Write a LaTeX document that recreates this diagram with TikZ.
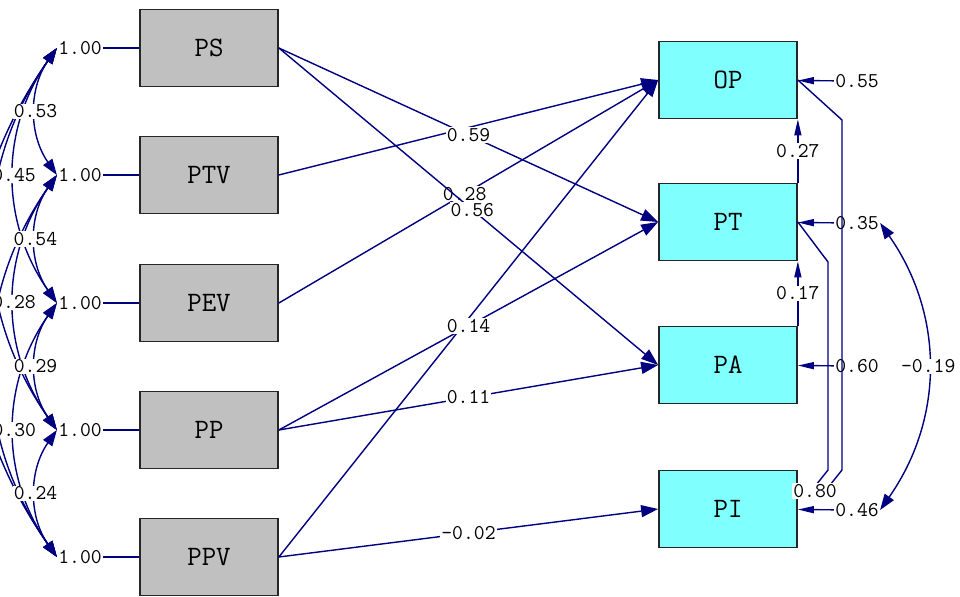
\documentclass[tikz,border=0pt]{standalone}
\usepackage{fontspec}
\usetikzlibrary{arrows.meta}
\definecolor{pathblue}{RGB}{0,0,128}
\definecolor{boxgray}{RGB}{192,192,192}
\definecolor{boxcyan}{RGB}{128,255,255}

\begin{document}
\begin{tikzpicture}[x=0.02cm,y=-0.02cm,
  varbox/.style={draw=black!85,line width=1pt,minimum width=2.76cm,minimum height=1.54cm,
    font=\ttfamily\fontsize{16}{18}\selectfont},
  exo/.style={varbox,fill=boxgray},
  endo/.style={varbox,fill=boxcyan},
  lbl/.style={fill=white,inner sep=0.6pt,font=\ttfamily\fontsize{12}{13}\selectfont},
  link/.style={draw=pathblue,line width=0.8pt},
  effect/.style={link,-{Triangle[length=0.34cm,width=0.24cm]}},
  cov/.style={link,{Triangle[length=0.32cm,width=0.22cm]}-{Triangle[length=0.32cm,width=0.22cm]}},
  narrow/.style={link,-{Triangle[length=0.32cm,width=0.14cm]}}]
  \useasboundingbox (0,0) rectangle (960,597);

  \foreach \n/\y in {PS/48,PTV/175,PEV/303,PP/430,PPV/557} {
    \node[exo] (\n) at (209,\y) {\n};
    \node[lbl] (v\n) at (80,\y) {1.00};
    \draw[link] (v\n) -- (\n);
  }
  \foreach \n/\y/\e in {OP/80/0.55,PT/222/0.35,PA/365/0.60,PI/509/0.46} {
    \node[endo] (\n) at (728,\y) {\n};
    \node[lbl] (e\n) at (857,\y+1) {\e};
    \draw[narrow] (e\n) -- (\n);
  }

  \foreach \a/\b in {PS/PPV,PS/PP,PTV/PPV}
    \draw[cov] (v\a.west) to[bend right=35] (v\b.west);
  \foreach \a/\b/\c in {PS/PEV/0.45,PTV/PP/0.28,PEV/PPV/0.30,
                        PS/PTV/0.53,PTV/PEV/0.54,PEV/PP/0.29,PP/PPV/0.24}
    \draw[cov] (v\a.west) to[bend right=35] node[lbl] (c\a\b) {\c} (v\b.west);

  \draw[effect] (PTV.east) -- (OP.west);
  \draw[effect] (PPV.east) -- (OP.west);
  \draw[effect] (PEV.east) -- node[lbl,pos=0.49] (gPEV) {0.28} (OP.west);
  \draw[effect] (PS.east) -- node[lbl] (bPT) {0.59} (PT.west);
  \draw[effect] (PS.east) -- node[lbl,pos=0.51] (bPA) {0.56} (PA.west);
  \draw[effect] (PP.east) -- node[lbl] (gPT) {0.14} (PT.west);
  \draw[effect] (PP.east) -- node[lbl] (gPA) {0.11} (PA.west);
  \draw[effect] (PPV.east) -- node[lbl] (gPI) {-0.02} (PI.west);

  \draw[narrow] (PT.north east) -- node[lbl] (bOP) {0.27} (OP.south east);
  \draw[narrow] (PA.north east) -- node[lbl] (bPT2) {0.17} (PT.south east);

  \coordinate (m1) at (828,262);
  \coordinate (m2) at (828,470);
  \coordinate (m3) at (812,490);
  \coordinate (k1) at (842,120);
  \coordinate (k2) at (842,470);
  \coordinate (k3) at (826,490);
  \draw[link] (PT.east) -- (m1) -- (m2) -- (m3);
  \draw[link] (OP.east) -- (k1) -- (k2) -- (k3);
  \node[lbl] (bPI) at (815,491) {0.80};

  \draw[cov] (ePT.east) to[bend left=35] node[lbl] (psi) {-0.19} (ePI.east);
\end{tikzpicture}
\end{document}
